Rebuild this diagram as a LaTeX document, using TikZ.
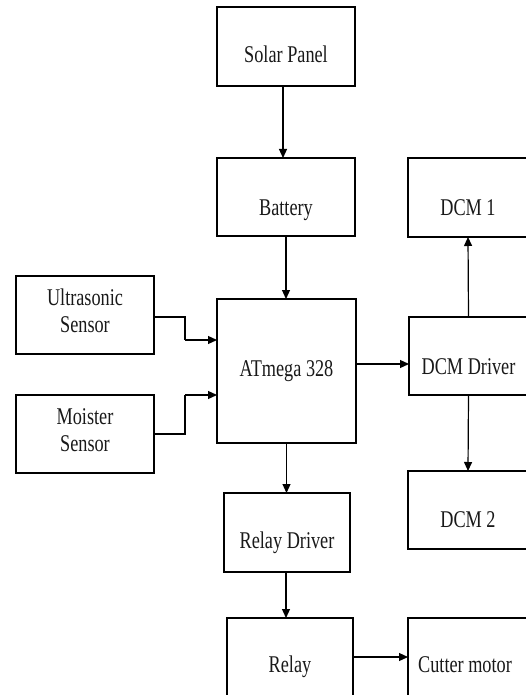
\documentclass[tikz,border=0pt]{standalone}
\usepackage{fontspec}
\setmainfont[FakeStretch=0.76]{Liberation Serif}
\usetikzlibrary{arrows.meta}
\begin{document}
\begin{tikzpicture}[x=1pt,y=1pt,
  box/.style={draw=black,line width=1.2pt,rectangle,inner sep=0pt,outer sep=0pt},
  lbl/.style={inner sep=0pt,text=black!90,font=\fontsize{24}{27}\selectfont,text height=0.7em,text depth=0.25em},
  lbl2/.style={inner sep=0pt,text=black!90,font=\fontsize{24}{27}\selectfont,align=center},
  arr/.style={draw=black,line width=1.2pt,-{Triangle[length=9pt,width=8pt]}},
  ln/.style={draw=black,line width=1.2pt}]
\useasboundingbox (0,0) rectangle (526,-695);
\clip (0,0) rectangle (526,-695);
% boxes (centre x, centre y, width, height)
\node[box,minimum width=138,minimum height=79] (solar) at (286,-46.5) {};
\node[box,minimum width=138,minimum height=78] (bat) at (286,-197) {};
\node[box,minimum width=139,minimum height=144] (atm) at (286.5,-371) {};
\node[box,minimum width=138,minimum height=78] (us) at (85,-315) {};
\node[box,minimum width=138,minimum height=78] (ms) at (85,-434) {};
\node[box,minimum width=120,minimum height=79] (dcma) at (468,-197.5) {};
\node[box,minimum width=119,minimum height=78] (drv) at (468.5,-356) {};
\node[box,minimum width=120,minimum height=78] (dcmb) at (468,-510) {};
\node[box,minimum width=126,minimum height=79] (rdrv) at (287,-532.5) {};
\node[box,minimum width=126,minimum height=78] (relay) at (290,-657) {};
\node[box,minimum width=130,minimum height=78] (cut) at (473,-657) {};
% labels
\node[lbl] (tsolar) at ([yshift=-14pt]solar.center) {Solar Panel};
\node[lbl] (tbat) at ([yshift=-16pt]bat.center) {Battery};
\node[lbl] (tatm) at ([yshift=-3pt]atm.center) {ATmega 328};
\node[lbl2] (tus) at ([yshift=4pt]us.center) {Ultrasonic\\Sensor};
\node[lbl2] (tms) at ([yshift=4pt]ms.center) {Moister\\Sensor};
\node[lbl] (tdcma) at ([yshift=-16pt]dcma.center) {DCM 1};
\node[lbl] (tdrv) at ([yshift=-16pt]drv.center) {DCM Driver};
\node[lbl] (tdcmb) at ([yshift=-15pt]dcmb.center) {DCM 2};
\node[lbl] (trdrv) at ([yshift=-14pt]rdrv.center) {Relay Driver};
\node[lbl] (trelay) at ([yshift=-13pt]relay.center) {Relay};
\node[lbl] (tcut) at ([xshift=-8pt,yshift=-13pt]cut.center) {Cutter motor};
% connectors
\draw[arr] ([xshift=-3pt]solar.south) -- ([xshift=-3pt]bat.north);
\draw[arr] (bat.south) -- (bat.south |- atm.north);
\draw[arr] (atm.south) -- (atm.south |- rdrv.north);
\draw[arr] ([xshift=-1pt]rdrv.south) -- ([xshift=-1pt]rdrv.south |- relay.north);
\draw[arr] (relay.east) -- (relay.east -| cut.west);
\draw[arr] ([yshift=7pt]atm.east) -- ([yshift=7pt]atm.east -| drv.west);
\draw[arr] (drv.north) -- (dcma.south);
\draw[arr] (drv.south) -- (dcmb.north);
\coordinate (u1) at (185,-340);
\coordinate (m1) at (185,-395);
\draw[ln] ([yshift=-2pt]us.east) -| (u1);
\draw[arr] (u1) -- (u1 -| atm.west);
\draw[ln] (ms.east) -| (m1);
\draw[arr] (m1) -- (m1 -| atm.west);
\end{tikzpicture}
\end{document}
